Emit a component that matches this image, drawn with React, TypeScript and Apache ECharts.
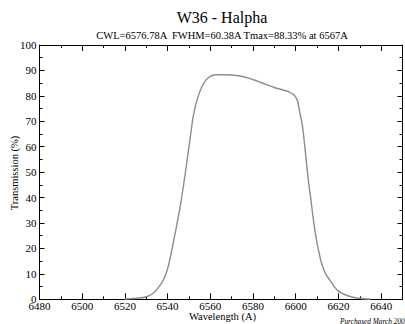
import React, { useEffect, useRef } from "react";
import * as echarts from "echarts";

const wavelengths = [
  6520, 6524, 6528, 6530, 6532, 6534, 6536, 6538, 6540, 6542, 6544, 6546, 6548,
  6550, 6551, 6552, 6554, 6556, 6558, 6560, 6562, 6564, 6567, 6570, 6574, 6578,
  6582, 6586, 6590, 6594, 6597, 6599, 6600, 6601, 6602, 6603, 6604, 6605, 6606,
  6607, 6608, 6609, 6610, 6611, 6612, 6614, 6616, 6618, 6620, 6622, 6624, 6626,
  6628, 6630, 6632, 6635,
];
const transmission = [
  0.1, 0.3, 0.6, 1.0, 1.7, 3.0, 5.0, 7.6, 12.0, 19.5, 28, 37, 48,
  60, 66, 72, 79, 83.5, 86.3, 87.7, 88.2, 88.3, 88.33, 88.2, 87.8, 87.0,
  85.8, 84.5, 83.3, 82.3, 81.5, 80.5, 79.5, 77.5, 73, 69, 62, 54, 46,
  40, 33, 27, 22, 18, 14.5, 10, 7.5, 5, 3.2, 2.2, 1.5, 1.0,
  0.6, 0.4, 0.2, 0.05,
];

const titleText = "W36 - Halpha";
const subtitleText = "CWL=6576.78A  FWHM=60.38A Tmax=88.33% at 6567A";
const xName = "Wavelength (A)";
const yName = "Transmission (%)";
const footnote = "Purchased March 2005";

const X_MIN = 6480;
const X_MAX = 6650;
const Y_MIN = 0;
const Y_MAX = 100;

const FONT = "'Liberation Serif', 'Times New Roman', serif";

export default function App() {
  const ref = useRef<HTMLDivElement>(null);

  useEffect(() => {
    document.body.style.margin = "0";
    if (!ref.current) return;
    const chart = echarts.init(ref.current, undefined, { renderer: "svg" });

    const lineStyle = { color: "#000", width: 1 };
    const majorX = {
      type: "value",
      min: X_MIN,
      max: X_MAX,
      interval: 20,
      splitLine: { show: false },
    };
    const minorX = {
      type: "value",
      min: X_MIN,
      max: X_MAX,
      interval: 10,
      splitLine: { show: false },
      axisLine: { show: false },
      axisLabel: { show: false },
      axisTick: { show: true, inside: true, length: 3, lineStyle },
    };

    chart.setOption({
      animation: false,
      grid: { left: 39.5, right: 2.5, top: 45, bottom: 24.7 },
      xAxis: [
        {
          ...majorX,
          position: "bottom",
          axisLine: { show: true, lineStyle },
          axisTick: { show: true, inside: true, length: 6, lineStyle },
          axisLabel: {
            show: true,
            showMaxLabel: false,
            margin: 1,
            color: "#000",
            fontFamily: FONT,
            fontSize: 11,
            formatter: (v: number) => String(v),
          },
        },
        { ...minorX, position: "bottom" },
        {
          ...majorX,
          position: "top",
          axisLine: { show: true, lineStyle },
          axisTick: { show: true, inside: true, length: 6, lineStyle },
          axisLabel: { show: false },
        },
        { ...minorX, position: "top" },
      ],
      yAxis: [
        {
          type: "value",
          position: "left",
          min: Y_MIN,
          max: Y_MAX,
          interval: 10,
          splitLine: { show: false },
          axisLine: { show: true, lineStyle },
          axisTick: { show: true, inside: true, length: 5, lineStyle },
          minorTick: { show: true, splitNumber: 2, length: 3, lineStyle },
          axisLabel: {
            margin: 3,
            color: "#000",
            fontFamily: FONT,
            fontSize: 11,
            formatter: (v: number) => String(v),
          },
        },
        {
          type: "value",
          position: "right",
          min: Y_MIN,
          max: Y_MAX,
          interval: 10,
          splitLine: { show: false },
          axisLine: { show: true, lineStyle },
          axisTick: { show: true, inside: true, length: 5, lineStyle },
          minorTick: { show: true, splitNumber: 2, length: 3, lineStyle },
          axisLabel: { show: false },
        },
      ],
      series: [
        {
          type: "line",
          xAxisIndex: 0,
          yAxisIndex: 0,
          data: wavelengths.map((w, i) => [w, transmission[i]]),
          showSymbol: false,
          smooth: 0.3,
          lineStyle: { color: "#8c8c8c", width: 1.4 },
        },
      ],
      graphic: [
        {
          type: "text",
          x: 222,
          y: 17.5,
          style: {
            text: titleText,
            fill: "#000",
            font: `16px ${FONT}`,
            textAlign: "center",
            textVerticalAlign: "middle",
          },
        },
        {
          type: "text",
          x: 222,
          y: 35.3,
          style: {
            text: subtitleText,
            fill: "#000",
            font: `10.5px ${FONT}`,
            textAlign: "center",
            textVerticalAlign: "middle",
          },
        },
        {
          type: "text",
          x: 222.5,
          y: 316,
          style: {
            text: xName,
            fill: "#000",
            font: `10.5px ${FONT}`,
            textAlign: "center",
            textVerticalAlign: "middle",
          },
        },
        {
          type: "text",
          x: 14,
          y: 173,
          rotation: Math.PI / 2,
          style: {
            text: yName,
            fill: "#000",
            font: `10.5px ${FONT}`,
            textAlign: "center",
            textVerticalAlign: "middle",
          },
        },
        {
          type: "text",
          x: 340,
          y: 321.5,
          style: {
            text: footnote,
            fill: "#000",
            font: `italic 7.3px ${FONT}`,
            textAlign: "left",
            textVerticalAlign: "middle",
          },
        },
      ],
    });

    return () => chart.dispose();
  }, []);

  return <div ref={ref} style={{ width: 405, height: 324 }} />;
}
